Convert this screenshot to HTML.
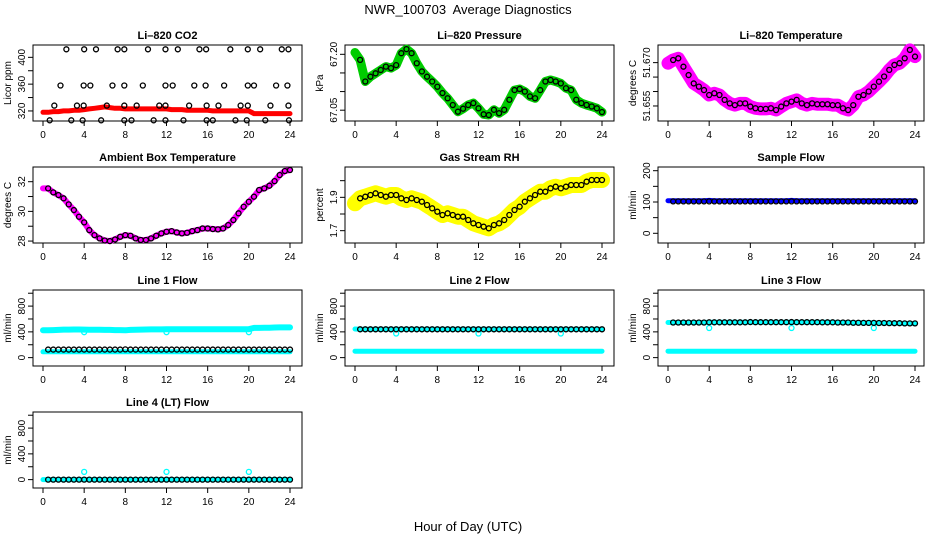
<!DOCTYPE html>
<html><head><meta charset="utf-8"><style>
html,body{margin:0;padding:0;background:#fff}
svg text{font-family:"Liberation Sans",Arial,sans-serif}
</style></head><body>
<svg id="c" width="936" height="540" xmlns="http://www.w3.org/2000/svg">
<rect width="936" height="540" fill="#fff"/>
<text x="468" y="14" text-anchor="middle" font-size="13" style="white-space:pre">NWR_100703  Average Diagnostics</text>
<text x="468" y="531" text-anchor="middle" font-size="13">Hour of Day (UTC)</text>
</svg>
<script>
const hours = [0,0.5,1,1.5,2,2.5,3,3.5,4,4.5,5,5.5,6,6.5,7,7.5,8,8.5,9,9.5,10,10.5,11,11.5,12,12.5,13,13.5,14,14.5,15,15.5,16,16.5,17,17.5,18,18.5,19,19.5,20,20.5,21,21.5,22,22.5,23,23.5,24];
const xTicks = [0,4,8,12,16,20,24];
const co2Band = [318,318,319,319,320,320,321,321,322,323,324,325,326,325,324,324,323,323,323,323,323,323,323,323,323,322,322,322,321,321,321,321,321,320,320,320,320,320,320,320,320,316,316,316,316,316,316,316,316];
const co2OutHours = [2.27,4.0,5.15,7.25,7.9,10.2,11.9,13.1,15.2,15.85,18.2,19.9,21.1,23.2,23.85,1.7,3.95,4.6,6.75,7.9,9.7,11.9,12.6,14.7,15.8,17.6,19.9,20.5,22.65,23.75,1.1,3.3,3.95,6.2,7.9,9.1,11.3,11.9,14.2,15.9,17.05,19.2,19.9,22.1,23.85,0.65,2.75,3.85,5.65,7.9,8.6,10.75,11.9,13.65,15.9,16.5,18.7,19.8,21.6,23.9];
const co2OutVals = [412,412,412,412,412,412,412,412,412,412,412,412,412,412,412,358,358,358,358,358,358,358,358,358,358,358,358,358,358,358,328,328,328,328,328,328,328,328,328,328,328,328,328,328,328,306,306,306,306,306,306,306,306,306,306,306,306,306,306,306];
const pressure = [67.205,67.185,67.127,67.140,67.149,67.158,67.167,67.163,67.171,67.203,67.214,67.203,67.176,67.154,67.140,67.127,67.113,67.096,67.082,67.064,67.046,67.054,67.064,67.069,67.055,67.039,67.037,67.051,67.042,67.051,67.078,67.104,67.107,67.100,67.087,67.082,67.104,67.127,67.131,67.127,67.122,67.109,67.104,67.078,67.069,67.064,67.060,67.055,67.045];
const liTemp = [51.6698,51.6709,51.6715,51.6686,51.6657,51.6628,51.6617,51.6605,51.6588,51.6594,51.6588,51.6571,51.6559,51.6553,51.6559,51.6559,51.6548,51.6542,51.6540,51.6540,51.6542,51.6536,51.6548,51.6559,51.6565,51.6571,51.6559,51.6553,51.6559,51.6556,51.6556,51.6556,51.6553,51.6553,51.6542,51.6536,51.6553,51.6582,51.6588,51.6600,51.6617,51.6634,51.6652,51.6675,51.6692,51.6698,51.6715,51.6744,51.6721];
const ambient = [31.55,31.55,31.28,31.10,30.88,30.47,30.09,29.64,29.26,28.74,28.40,28.18,28.04,28.00,28.11,28.29,28.40,28.36,28.18,28.07,28.07,28.18,28.36,28.52,28.63,28.67,28.58,28.52,28.56,28.67,28.74,28.85,28.85,28.81,28.79,28.85,29.08,29.42,29.87,30.31,30.65,30.99,31.44,31.55,31.73,32.04,32.45,32.72,32.79];
const rh = [1.864,1.894,1.904,1.914,1.924,1.914,1.904,1.914,1.914,1.894,1.884,1.894,1.884,1.874,1.854,1.834,1.814,1.794,1.804,1.794,1.784,1.784,1.764,1.744,1.734,1.724,1.714,1.734,1.744,1.764,1.794,1.824,1.844,1.874,1.894,1.914,1.934,1.934,1.954,1.964,1.954,1.964,1.974,1.974,1.974,1.994,2.004,2.004,2.004];
const sampleBlue = [104,104,104,104,104,104,104,104,105,104,104,104,104,104,104,104,104,104,104,104,104,104,104,104,105,104,104,104,104,104,104,104,104,104,104,104,104,104,104,104,104,104,104,104,104,104,104,104,104];
const sampleBlack = [102,102,102,102,102,102,102,102,102,102,102,102,102,102,102,102,102,102,102,102,102,102,102,102,102,102,102,102,102,102,102,102,102,102,102,102,102,102,102,102,102,102,102,102,102,102,102,102,102];
const line1Upper = [425,425,428,430,435,435,437,437,435,433,432,432,430,430,428,428,425,430,432,435,436,438,438,438,440,440,440,440,440,440,440,440,440,440,442,442,442,442,442,442,442,462,462,465,465,468,470,470,470];
const line1Lower = [90,90,90,90,90,90,90,90,90,90,90,90,90,90,90,90,90,90,90,90,90,90,90,90,90,90,90,90,90,90,90,90,90,90,90,90,90,90,90,90,90,90,90,90,90,90,90,90,90];
const line1Black = [125,125,125,125,125,125,125,125,125,125,125,125,125,125,125,125,128,125,125,125,125,125,125,125,125,125,125,125,125,125,125,125,125,125,125,125,125,125,125,125,125,125,125,125,125,125,125,125,125];
const line2Upper = [445,440,440,440,440,440,440,440,440,440,440,440,440,440,440,440,440,440,440,440,440,440,440,440,440,440,440,440,440,440,440,440,440,440,440,440,440,440,440,440,440,440,440,440,440,440,440,440,440];
const line2Lower = [100,100,100,100,100,100,100,100,100,100,100,100,100,100,100,100,100,100,100,100,100,100,100,100,100,100,100,100,100,100,100,100,100,100,100,100,100,100,100,100,100,100,100,100,100,100,100,100,100];
const line2Black = [440,440,440,440,440,440,440,440,440,440,440,440,440,440,440,440,440,440,440,440,440,440,440,440,440,440,440,440,440,440,440,440,440,440,440,440,440,440,440,440,440,440,440,440,440,440,440,440,440];
const line3Upper = [545,545,545,545,545,545,545,545,548,548,548,548,548,548,548,548,550,550,550,550,550,550,550,550,550,550,550,550,550,550,548,548,548,545,545,545,542,542,540,540,540,538,538,536,535,535,532,532,530];
const line3Lower = [100,100,100,100,100,100,100,100,100,100,100,100,100,100,100,100,100,100,100,100,100,100,100,100,100,100,100,100,100,100,100,100,100,100,100,100,100,100,100,100,100,100,100,100,100,100,100,100,100];
const line3Black = [545,545,545,545,545,545,545,545,548,548,548,548,548,548,548,548,552,550,550,550,550,550,550,550,552,550,550,550,550,550,548,548,548,545,545,545,542,542,540,540,540,538,538,536,535,535,532,532,532];
const line4Cyan = [0,0,0,0,0,0,0,0,0,0,0,0,0,0,0,0,0,0,0,0,0,0,0,0,0,0,0,0,0,0,0,0,0,0,0,0,0,0,0,0,0,0,0,0,0,0,0,0,0];
const line4Black = [0,0,0,0,0,0,0,0,0,0,0,0,0,0,0,0,0,0,0,0,0,0,0,0,0,0,0,0,0,0,0,0,0,0,0,0,0,0,0,0,0,0,0,0,0,0,0,0,0];
const outHours = [4,12,20];
const line1Out = [395,395,395];
const line2Out = [375,375,375];
const line3Out = [460,460,460];
const line4Out = [120,120,120];

const svg = document.getElementById('c');
const NS = 'http://www.w3.org/2000/svg';
const colX0 = [43,355,668];
const colBox = [[33,302],[345,614],[658,924]];
const rowTop = [45,167,290,412];
const H = 76;
const XW = 247;

function mk(tag, attrs){
  const e = document.createElementNS(NS, tag);
  for (const k in attrs) e.setAttribute(k, attrs[k]);
  svg.appendChild(e);
  return e;
}

function makePanel(col,row,title,ylab,ymin,ymax,ticks,labels,name){
  const p = {col,row,ymin,ymax,top:rowTop[row]};
  p.sx = h => colX0[col] + h*XW/24;
  p.sy = v => p.top + (ymax - v)/(ymax - ymin)*H;
  const [l,r] = colBox[col];
  const box = mk('rect',{x:l,y:p.top,width:r-l,height:H,fill:'none',stroke:'#000','stroke-width':1});
  
  
  const t = mk('text',{x:(l+r)/2,y:p.top-6,'text-anchor':'middle','font-size':11,'font-weight':'bold'});
  t.textContent = title;
  
  
  const yl = mk('text',{transform:`translate(${l-22},${p.top+H/2}) rotate(-90)`,'text-anchor':'middle','font-size':10});
  yl.textContent = ylab;
  
  
  const b = p.top + H;
  xTicks.forEach(h => {
    const x = p.sx(h);
    const tk = mk('line',{x1:x,x2:x,y1:b,y2:b+5,stroke:'#000'});
    
    
    const tl = mk('text',{x:x,y:b+17,'text-anchor':'middle','font-size':10});
    tl.textContent = h;
    
    
  });
  ticks.forEach(v => {
    const y = p.sy(v);
    const tk = mk('line',{x1:l-5,x2:l,y1:y,y2:y,stroke:'#000'});
    
    
  });
  labels.forEach(v => {
    const y = p.sy(v);
    const tl = mk('text',{transform:`translate(${l-8},${y}) rotate(-90)`,'text-anchor':'middle','font-size':10});
    tl.textContent = String(v);
    
    
  });
  return p;
}

function band(p, xs, vals, color, w, name){
  const pts = xs.map((h,i) => p.sx(h).toFixed(1)+','+p.sy(vals[i]).toFixed(1)).join(' ');
  const e = mk('polyline',{points:pts,fill:'none',stroke:color,'stroke-width':w,'stroke-linejoin':'round','stroke-linecap':'round'});
  
  
}
function circles(p, xs, vals, color, start, name){
  for (let i = start; i < xs.length; i++){
    const c = mk('circle',{cx:p.sx(xs[i]),cy:p.sy(vals[i]),r:2.5,fill:'none',stroke:color,'stroke-width':1.3});
    
    
  }
}

let p = makePanel(0,0,'Li\u2013820 CO2','Licor ppm',305,418.4,[320,340,360,380,400],[320,360,400],'co2');
band(p, hours, co2Band, '#ff0000', 5, 'co2-band');
circles(p, co2OutHours, co2OutVals, '#000', 0, 'co2-point');

p = makePanel(1,0,'Li\u2013820 Pressure','kPa',67.021,67.225,[67.05,67.10,67.15,67.20],['67.05','67.20'],'pressure');
band(p, hours, pressure, '#00cc00', 9, 'pressure-band');
circles(p, hours, pressure, '#000', 1, 'pressure-point');

p = makePanel(2,0,'Li\u2013820 Temperature','degrees C',51.6498,51.6761,[51.655,51.660,51.665,51.670],['51.655','51.670'],'li-temp');
band(p, hours, liTemp, '#ff00ff', 13, 'li-temp-band');
circles(p, hours, liTemp, '#000', 1, 'li-temp-point');

p = makePanel(0,1,'Ambient Box Temperature','degrees C',27.87,32.99,[28,29,30,31,32],[28,30,32],'ambient');
band(p, hours, ambient, '#ff00ff', 6, 'ambient-band');
circles(p, hours, ambient, '#000', 1, 'ambient-point');

p = makePanel(1,1,'Gas Stream RH','percent',1.626,2.082,[1.7,1.8,1.9,2.0],['1.7','1.9'],'rh');
band(p, hours, rh, '#ffff00', 16, 'rh-band');
circles(p, hours, rh, '#000', 1, 'rh-point');

p = makePanel(2,1,'Sample Flow','ml/min',-31,211.8,[0,50,100,150,200],[0,100,200],'sample-flow');
band(p, hours, sampleBlue, '#0000ff', 5, 'sample-flow-band');
circles(p, hours, sampleBlack, '#000', 1, 'sample-flow-point');

p = makePanel(0,2,'Line 1 Flow','ml/min',-130,1050,[0,200,400,600,800,1000],[0,400,800],'line1');
band(p, hours, line1Upper, '#00ffff', 6, 'line1-upper-band');
band(p, hours, line1Lower, '#00ffff', 5, 'line1-lower-band');
circles(p, outHours, line1Out, '#00ffff', 0, 'line1-outlier');
circles(p, hours, line1Black, '#000', 1, 'line1-point');

p = makePanel(1,2,'Line 2 Flow','ml/min',-130,1050,[0,200,400,600,800,1000],[0,400,800],'line2');
band(p, hours, line2Upper, '#00ffff', 5, 'line2-upper-band');
band(p, hours, line2Lower, '#00ffff', 5, 'line2-lower-band');
circles(p, outHours, line2Out, '#00ffff', 0, 'line2-outlier');
circles(p, hours, line2Black, '#000', 1, 'line2-point');

p = makePanel(2,2,'Line 3 Flow','ml/min',-130,1050,[0,200,400,600,800,1000],[0,400,800],'line3');
band(p, hours, line3Upper, '#00ffff', 5, 'line3-upper-band');
band(p, hours, line3Lower, '#00ffff', 5, 'line3-lower-band');
circles(p, outHours, line3Out, '#00ffff', 0, 'line3-outlier');
circles(p, hours, line3Black, '#000', 1, 'line3-point');

p = makePanel(0,3,'Line 4 (LT) Flow','ml/min',-130,1050,[0,200,400,600,800,1000],[0,400,800],'line4');
band(p, hours, line4Cyan, '#00ffff', 5, 'line4-band');
circles(p, outHours, line4Out, '#00ffff', 0, 'line4-outlier');
circles(p, hours, line4Black, '#000', 1, 'line4-point');
</script>
</body></html>
